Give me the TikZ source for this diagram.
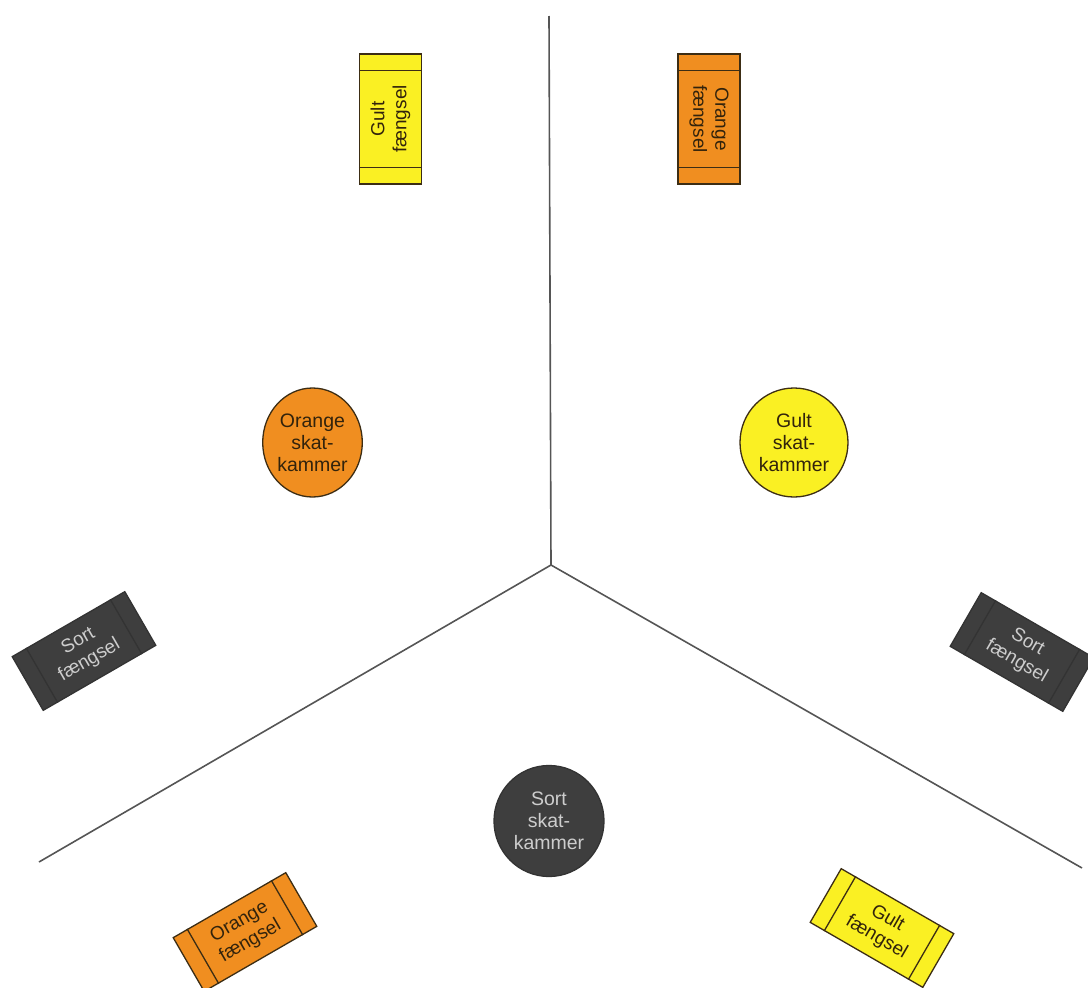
\documentclass[tikz,border=0pt]{standalone}
\usepackage{fontspec}
\setmainfont{Liberation Sans}
\usetikzlibrary{calc,shapes.geometric}
\definecolor{gul}{RGB}{250,240,35}
\definecolor{ora}{RGB}{240,142,32}
\definecolor{sor}{RGB}{62,62,62}
\definecolor{sortxt}{RGB}{205,205,205}
\definecolor{edge}{RGB}{60,45,20}
\definecolor{txt}{RGB}{50,35,12}
\definecolor{linec}{RGB}{85,85,85}
\tikzset{
  cell/.style={draw=edge, text=txt, line width=1.3pt, rectangle, minimum width=130pt, minimum height=62pt, inner sep=0pt, align=center, font=\fontsize{19}{22}\selectfont},
  vault/.style={draw=edge, text=txt, line width=1.3pt, ellipse, inner sep=0pt, align=center, font=\fontsize{19.5}{22}\selectfont},
  divider/.style={draw=linec, line width=1.6pt},
  band/.style={draw=edge, line width=1.3pt}
}
\begin{document}
\begin{tikzpicture}[x=1pt,y=-1pt]
\useasboundingbox (0,0) rectangle (1088,988);
% dividers
\coordinate (c) at (551,565);
\coordinate (top) at (549,16);
\coordinate (lft) at (39,862);
\coordinate (rgt) at (1082,868);
\draw[divider] (top) -- (c);
\draw[divider] (c) -- (lft);
\draw[divider] (c) -- (rgt);
% vaults
\node[vault, fill=ora, minimum width=97pt, minimum height=109pt] (vo) at (312.5,442.5) {Orange\\skat-\\kammer};
\node[vault, fill=gul, minimum width=108pt, minimum height=109pt] (vg) at (794,442.5) {Gult\\skat-\\kammer};
\node[vault, fill=sor, draw=black!80, text=sortxt, minimum width=110pt, minimum height=111pt] (vs) at (549,821) {Sort\\skat-\\kammer};
% prisons
\node[cell, fill=gul, rotate=90] (pg1) at (390.5,119) {Gult\\fængsel};
\node[cell, fill=ora, rotate=-90] (po1) at (709,119) {Orange\\fængsel};
\node[cell, fill=sor, draw=black!80, text=sortxt, rotate=30] (ps1) at (84,651) {Sort\\fængsel};
\node[cell, fill=sor, draw=black!80, text=sortxt, rotate=-30] (ps2) at (1022,652) {Sort\\fængsel};
\node[cell, fill=ora, rotate=30] (po2) at (245,932) {Orange\\fængsel};
\node[cell, fill=gul, rotate=-30] (pg2) at (882,928) {Gult\\fængsel};
% bands
\foreach \n/\col in {pg1/edge, po1/edge, ps1/black!80, ps2/black!80, po2/edge, pg2/edge}{
  \draw[band, draw=\col] ($(\n.north west)!0.13!(\n.north east)$) -- ($(\n.south west)!0.13!(\n.south east)$);
  \draw[band, draw=\col] ($(\n.north east)!0.13!(\n.north west)$) -- ($(\n.south east)!0.13!(\n.south west)$);
}
\end{tikzpicture}
\end{document}
